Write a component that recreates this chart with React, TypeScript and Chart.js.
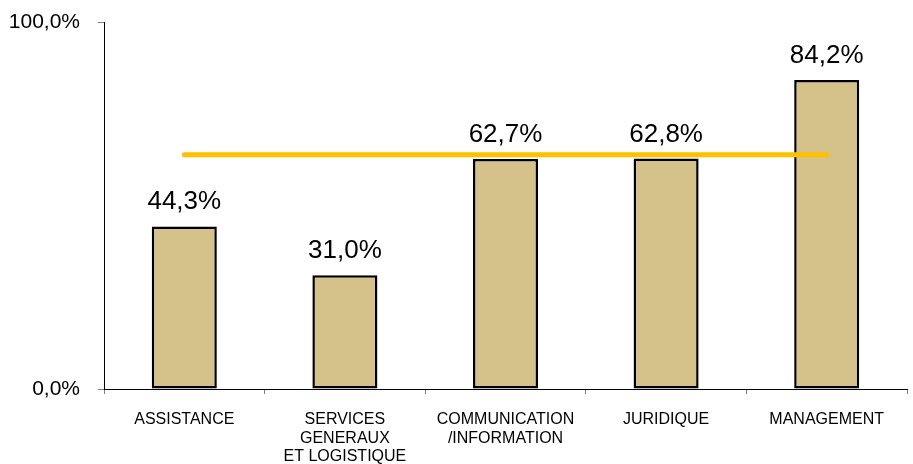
import React, { useEffect, useRef } from "react";
import { Chart, registerables } from "chart.js";

Chart.register(...registerables);

const categories: string[][] = [
  ["ASSISTANCE"],
  ["SERVICES", "GENERAUX", "ET LOGISTIQUE"],
  ["COMMUNICATION", "/INFORMATION"],
  ["JURIDIQUE"],
  ["MANAGEMENT"],
];
const rates: number[] = [44.3, 31.0, 62.7, 62.8, 84.2];
const averageLine: number[] = [63.8, 63.8, 63.8, 63.8, 63.8];
const yTicks: number[] = [0, 100];

const FONT = "'Liberation Sans', Arial, sans-serif";

const fmt = (v: number) => v.toFixed(1).replace(".", ",") + "%";

const labelPlugin = {
  id: "barLabels",
  afterDatasetsDraw(chart: any) {
    const ctx = chart.ctx;
    const meta = chart.getDatasetMeta(1);
    ctx.save();
    ctx.font = `26px ${FONT}`;
    ctx.fillStyle = "#000";
    ctx.textAlign = "center";
    ctx.textBaseline = "alphabetic";
    meta.data.forEach((bar: any, i: number) => {
      ctx.fillText(fmt(rates[i]), bar.x, bar.y - 17);
    });
    ctx.restore();
  },
};

export default function App() {
  const ref = useRef<HTMLCanvasElement | null>(null);
  useEffect(() => {
    if (!ref.current) return;
    const chart = new Chart(ref.current, {
      type: "bar",
      data: {
        labels: categories,
        datasets: [
          {
            type: "line",
            data: averageLine,
            borderColor: "#FFC000",
            borderWidth: 5,
            borderCapStyle: "round",
            pointRadius: 0,
            fill: false,
            order: 0,
          } as any,
          {
            type: "bar",
            data: rates,
            backgroundColor: "#D4C28A",
            borderColor: "#000000",
            borderWidth: 2.5,
            borderSkipped: false,
            categoryPercentage: 1,
            barPercentage: 0.405,
            order: 1,
          },
        ],
      },
      options: {
        animation: false,
        responsive: false,
        maintainAspectRatio: false,
        layout: { padding: { top: 22, right: 6, left: 0, bottom: 0 } },
        plugins: {
          legend: { display: false },
          tooltip: { enabled: false },
        },
        scales: {
          x: {
            offset: true,
            grid: {
              display: true,
              drawOnChartArea: false,
              offset: true,
              tickLength: 5,
              color: "#808080",
            },
            border: { display: true, color: "#000", width: 1 },
            ticks: {
              color: "#000",
              font: { family: FONT, size: 16, lineHeight: 1.13 },
              maxRotation: 0,
              autoSkip: false,
              padding: 17,
            },
            afterFit: (s: any) => {
              s.height = 75;
              s.paddingLeft = 0;
              s.paddingRight = 0;
            },
          },
          y: {
            min: 0,
            max: 100,
            afterBuildTicks: (s: any) => {
              s.ticks = yTicks.map((v) => ({ value: v }));
            },
            grid: {
              display: true,
              drawOnChartArea: false,
              tickLength: 6,
              color: "#808080",
            },
            border: { display: true, color: "#000", width: 1 },
            ticks: {
              color: "#000",
              font: { family: FONT, size: 21 },
              padding: 18,
              callback: (v: any) => fmt(Number(v)),
            },
            afterFit: (s: any) => {
              s.width = 104;
              s.paddingTop = 0;
              s.paddingBottom = 0;
            },
          },
        },
      },
      plugins: [labelPlugin],
    });
    return () => chart.destroy();
  }, []);
  return (
    <div style={{ position: "absolute", left: 0, top: 0, width: 913, height: 464, background: "#fff" }}>
      <canvas ref={ref} width={913} height={464} style={{ width: 913, height: 464 }} />
    </div>
  );
}
